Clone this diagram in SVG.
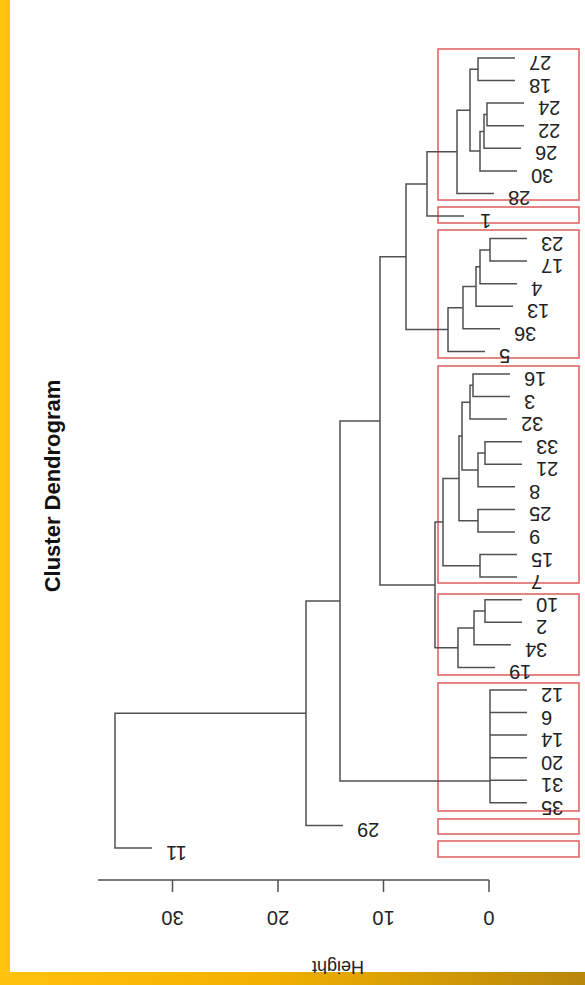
<svg xmlns="http://www.w3.org/2000/svg" width="585" height="985" viewBox="0 0 585 985">
<defs>
<linearGradient id="bar" x1="0" y1="0" x2="1" y2="0">
<stop offset="0" stop-color="#ffc20e"/>
<stop offset="0.45" stop-color="#f2b100"/>
<stop offset="1" stop-color="#b8860b"/>
</linearGradient>
<style>
.ln{fill:none;stroke:#505050;stroke-width:1.5}
.bx{fill:none;stroke:#e06666;stroke-width:1.6}
.lf{font-family:"Liberation Sans",Arial,sans-serif;font-size:20px;fill:#222;text-anchor:end}
.ax{font-family:"Liberation Sans",Arial,sans-serif;font-size:20px;fill:#222;text-anchor:middle}
.tt{font-family:"Liberation Sans",Arial,sans-serif;font-size:22px;font-weight:bold;fill:#111;text-anchor:middle}
</style>
</defs>
<rect width="585" height="985" fill="#fff"/>
<rect x="0" y="0" width="10" height="985" fill="#ffc20e"/>
<rect x="0" y="972" width="585" height="13" fill="url(#bar)"/>

<g id="title"><text class="tt" transform="translate(60 486) rotate(-90)">Cluster Dendrogram</text></g>

<g id="clusters">
<rect id="box1" class="bx" x="438" y="49" width="141" height="151"/>
<rect id="box2" class="bx" x="438" y="207" width="141" height="16"/>
<rect id="box3" class="bx" x="438" y="230" width="141" height="128"/>
<rect id="box4" class="bx" x="438" y="366" width="141" height="217"/>
<rect id="box5" class="bx" x="438" y="594" width="141" height="81"/>
<rect id="box6" class="bx" x="438" y="683" width="141" height="128"/>
<rect id="box7" class="bx" x="438" y="819" width="141" height="15"/>
<rect id="box8" class="bx" x="438" y="841" width="141" height="16"/>
</g>

<g id="connectors">
<path class="ln" d="M515 58H478V80.6H515"/>
<path class="ln" d="M524 103.1H487V125.7H524"/>
<path class="ln" d="M487 114.4H484V148.3H521"/>
<path class="ln" d="M484 131.4H480V170.9H517"/>
<path class="ln" d="M478 69.3H470V151.1H480"/>
<path class="ln" d="M470 110.2H457V193.4H494"/>
<path class="ln" d="M457 151.8H427V216H464"/>
<path class="ln" d="M527 238.6H490V261.1H527"/>
<path class="ln" d="M490 249.9H480V283.7H517"/>
<path class="ln" d="M480 266.8H476V306.3H513"/>
<path class="ln" d="M476 286.6H463V328.8H500"/>
<path class="ln" d="M463 307.7H448V351.4H485"/>
<path class="ln" d="M427 183.9H406V329.6H448"/>
<path class="ln" d="M510 374H473V396.6H510"/>
<path class="ln" d="M473 385.3H470V419.1H507"/>
<path class="ln" d="M522 441.7H485V464.3H522"/>
<path class="ln" d="M485 453H478V486.8H515"/>
<path class="ln" d="M470 402.2H462V469.9H478"/>
<path class="ln" d="M515 509.4H478V532H515"/>
<path class="ln" d="M462 436.1H459V520.7H478"/>
<path class="ln" d="M517 554.5H480V577.1H517"/>
<path class="ln" d="M459 478.4H443V565.8H480"/>
<path class="ln" d="M522 599.7H485V622.3H522"/>
<path class="ln" d="M485 611H474V644.8H511"/>
<path class="ln" d="M474 627.9H458V667.4H495"/>
<path class="ln" d="M443 522.1H435V647.7H458"/>
<path class="ln" d="M406 256.8H380V584.9H435"/>
<path class="ln" d="M527 690H490V802.8H527M490 712.5H527M490 735.1H527M490 757.7H527M490 780.2H527"/>
<path class="ln" d="M380 420.9H340V781H490"/>
<path class="ln" d="M340 601H306V825.4H343"/>
<path class="ln" d="M306 713.2H115V848H152"/>
</g>

<g id="axis">
<path class="ln" d="M98 880H489M489 880V892M383.5 880V892M278 880V892M172.5 880V892"/>
<text class="ax" transform="rotate(180 489 911)" x="489" y="911">0</text>
<text class="ax" transform="rotate(180 383.5 911)" x="383.5" y="911">10</text>
<text class="ax" transform="rotate(180 278 911)" x="278" y="911">20</text>
<text class="ax" transform="rotate(180 172.5 911)" x="172.5" y="911">30</text>
<text class="ax" style="font-size:18px" transform="rotate(180 338 961)" x="338" y="961">Height</text>
</g>

<g id="leaves">
<g id="n27"><text class="lf" transform="rotate(180 529 56)" x="529" y="56">27</text></g>
<g id="n18"><text class="lf" transform="rotate(180 529 78.6)" x="529" y="78.6">18</text></g>
<g id="n24"><text class="lf" transform="rotate(180 538 101.1)" x="538" y="101.1">24</text></g>
<g id="n22"><text class="lf" transform="rotate(180 538 123.7)" x="538" y="123.7">22</text></g>
<g id="n26"><text class="lf" transform="rotate(180 535 146.3)" x="535" y="146.3">26</text></g>
<g id="n30"><text class="lf" transform="rotate(180 531 168.9)" x="531" y="168.9">30</text></g>
<g id="n28"><text class="lf" transform="rotate(180 508 191.4)" x="508" y="191.4">28</text></g>
<g id="n1"><text class="lf" transform="rotate(180 480 214)" x="480" y="214">1</text></g>
<g id="n23"><text class="lf" transform="rotate(180 541 236.6)" x="541" y="236.6">23</text></g>
<g id="n17"><text class="lf" transform="rotate(180 541 259.1)" x="541" y="259.1">17</text></g>
<g id="n4"><text class="lf" transform="rotate(180 531 281.7)" x="531" y="281.7">4</text></g>
<g id="n13"><text class="lf" transform="rotate(180 527 304.3)" x="527" y="304.3">13</text></g>
<g id="n36"><text class="lf" transform="rotate(180 514 326.8)" x="514" y="326.8">36</text></g>
<g id="n5"><text class="lf" transform="rotate(180 499 349.4)" x="499" y="349.4">5</text></g>
<g id="n16"><text class="lf" transform="rotate(180 524 372)" x="524" y="372">16</text></g>
<g id="n3"><text class="lf" transform="rotate(180 524 394.6)" x="524" y="394.6">3</text></g>
<g id="n32"><text class="lf" transform="rotate(180 521 417.1)" x="521" y="417.1">32</text></g>
<g id="n33"><text class="lf" transform="rotate(180 536 439.7)" x="536" y="439.7">33</text></g>
<g id="n21"><text class="lf" transform="rotate(180 536 462.3)" x="536" y="462.3">21</text></g>
<g id="n8"><text class="lf" transform="rotate(180 529 484.8)" x="529" y="484.8">8</text></g>
<g id="n25"><text class="lf" transform="rotate(180 529 507.4)" x="529" y="507.4">25</text></g>
<g id="n9"><text class="lf" transform="rotate(180 529 530)" x="529" y="530">9</text></g>
<g id="n15"><text class="lf" transform="rotate(180 531 552.5)" x="531" y="552.5">15</text></g>
<g id="n7"><text class="lf" transform="rotate(180 531 575.1)" x="531" y="575.1">7</text></g>
<g id="n10"><text class="lf" transform="rotate(180 536 597.7)" x="536" y="597.7">10</text></g>
<g id="n2"><text class="lf" transform="rotate(180 536 620.3)" x="536" y="620.3">2</text></g>
<g id="n34"><text class="lf" transform="rotate(180 525 642.8)" x="525" y="642.8">34</text></g>
<g id="n19"><text class="lf" transform="rotate(180 509 665.4)" x="509" y="665.4">19</text></g>
<g id="n12"><text class="lf" transform="rotate(180 541 688)" x="541" y="688">12</text></g>
<g id="n6"><text class="lf" transform="rotate(180 541 710.5)" x="541" y="710.5">6</text></g>
<g id="n14"><text class="lf" transform="rotate(180 541 733.1)" x="541" y="733.1">14</text></g>
<g id="n20"><text class="lf" transform="rotate(180 541 755.7)" x="541" y="755.7">20</text></g>
<g id="n31"><text class="lf" transform="rotate(180 541 778.2)" x="541" y="778.2">31</text></g>
<g id="n35"><text class="lf" transform="rotate(180 541 800.8)" x="541" y="800.8">35</text></g>
<g id="n29"><text class="lf" transform="rotate(180 357 823.4)" x="357" y="823.4">29</text></g>
<g id="n11"><text class="lf" transform="rotate(180 166 846)" x="166" y="846">11</text></g>
</g>
</svg>
